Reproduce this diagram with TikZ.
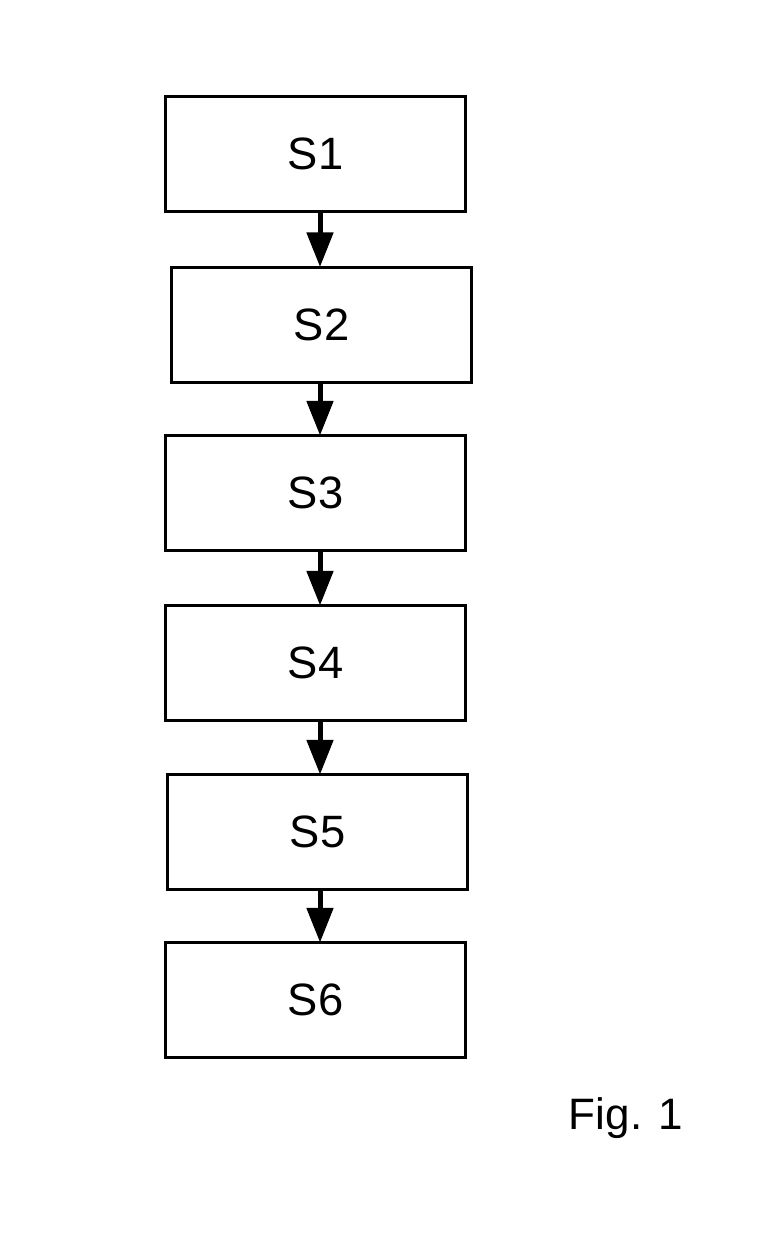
\documentclass[tikz,border=0pt]{standalone}
\usepackage{fontspec}
\setmainfont{Liberation Sans}
\usetikzlibrary{arrows.meta}
\begin{document}
\begin{tikzpicture}[x=0.75pt,y=-0.75pt,
  stepbox/.style={draw=black,line width=2.25pt,minimum width=225pt,minimum height=86.25pt,inner sep=0pt,outer sep=0pt,font=\fontsize{34}{40}\selectfont},
  arr/.style={line width=3.75pt,-{Triangle[width=19.5pt,length=26pt]}},
  lbl/.style={font=\fontsize{33}{40}\selectfont,inner sep=0pt}]
\useasboundingbox[fill=white] (0,0) rectangle (767,1250);
\node[stepbox] (S1) at (315.5,154) {S1};
\node[stepbox] (S2) at (321.5,324.5) {S2};
\node[stepbox] (S3) at (315.5,493) {S3};
\node[stepbox] (S4) at (315.5,663) {S4};
\node[stepbox] (S5) at (317.5,832) {S5};
\node[stepbox] (S6) at (315.5,1000) {S6};
\coordinate (ax) at (320,0);
\draw[arr] (S1.south -| ax) -- (S2.north -| ax);
\draw[arr] (S2.south -| ax) -- (S3.north -| ax);
\draw[arr] (S3.south -| ax) -- (S4.north -| ax);
\draw[arr] (S4.south -| ax) -- (S5.north -| ax);
\draw[arr] (S5.south -| ax) -- (S6.north -| ax);
\node[lbl] (fig) at (626,1118) {Fig. 1};
\end{tikzpicture}
\end{document}
